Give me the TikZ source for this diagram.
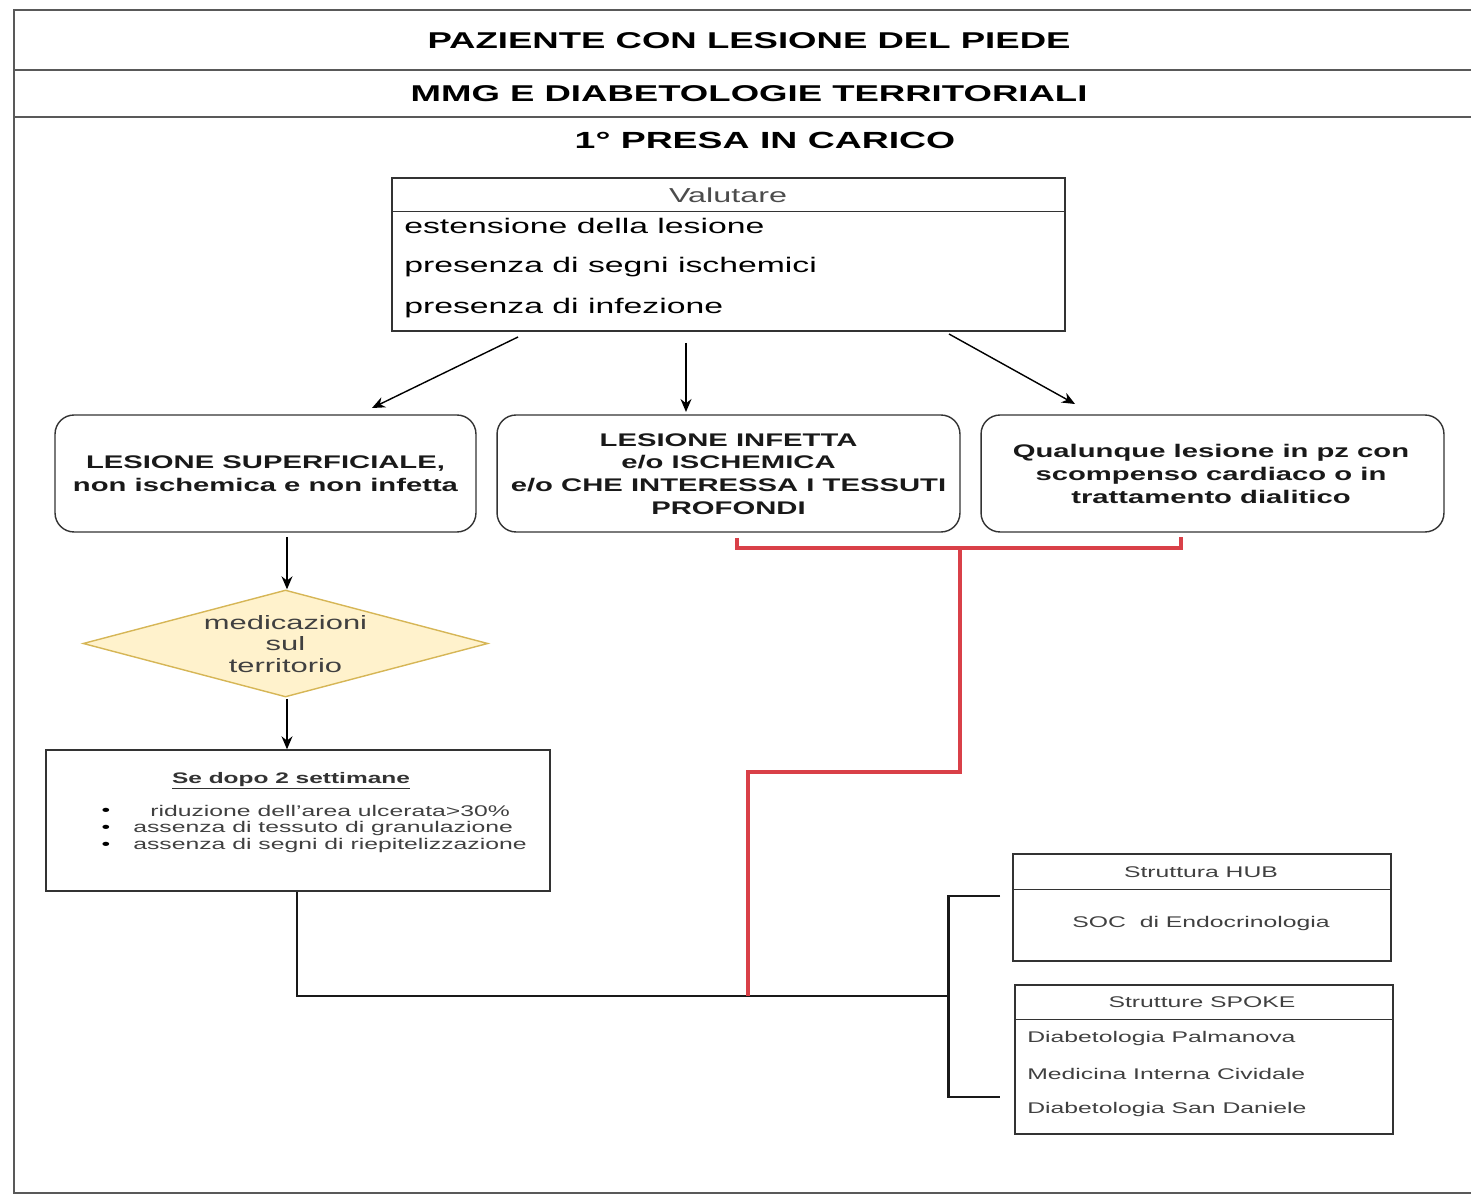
\documentclass[tikz,border=0pt]{standalone}
\usepackage{fontspec}
\setmainfont{Liberation Sans}[FakeStretch=1.6]
\usetikzlibrary{shapes.geometric,arrows.meta,calc}
\definecolor{redl}{RGB}{217,64,72}
\definecolor{dfill}{RGB}{255,242,204}
\definecolor{dline}{RGB}{214,182,86}
\begin{document}
\begin{tikzpicture}[x=0.02cm,y=-0.02cm,
  frameline/.style={draw=black!65, line width=1.1pt},
  box/.style={draw=black!80, line width=0.8pt, inner sep=0pt},
  rbox/.style={box, rounded corners=0.38cm},
  arr/.style={draw=black, line width=0.8pt, -{Stealth[length=0.26cm,width=0.22cm]}},
  conn/.style={draw=black!90, line width=1.7pt},
  redconn/.style={draw=redl, line width=1.8pt},
  ttl/.style={font=\bfseries\fontsize{13}{15}\selectfont, inner sep=0pt},
  btxt/.style={font=\bfseries\fontsize{10.4}{13}\selectfont, align=center, inner sep=0pt, text=black!90},
  itm/.style={font=\fontsize{12}{14}\selectfont, anchor=west, inner sep=0pt, text=black},
  stxt/.style={font=\fontsize{8.8}{10}\selectfont, inner sep=0pt, text=black!75},
]
\useasboundingbox (0,0) rectangle (1471,1195);
% outer frame
\draw[frameline] (1490,10) -- (14,10) -- (14,1193) -- (1490,1193);
\draw[frameline] (14,70) -- (1490,70);
\draw[frameline] (14,117) -- (1490,117);
\node[ttl] (t1) at (749,41) {PAZIENTE CON LESIONE DEL PIEDE};
\node[ttl] (t2) at (749,94) {MMG E DIABETOLOGIE TERRITORIALI};
\node[ttl, font=\bfseries\fontsize{13.3}{15}\selectfont] (t3) at (765,140) {1° PRESA IN CARICO};

% Valutare box
\node[box, minimum width=13.46cm, minimum height=3.06cm] (val) at (728.5,254.5) {};
\draw[box] ([yshift=-0.68cm]val.north west) -- ([yshift=-0.68cm]val.north east);
\node[font=\fontsize{11.5}{13}\selectfont, text=black!70, inner sep=0pt] (valh) at (728,195) {Valutare};
\node[itm] (v1) at (404,226) {estensione della lesione};
\node[itm] (v2) at (404,267) {presenza di segni ischemici};
\node[itm] (v3) at (404,308) {presenza di infezione};

% three boxes
\node[rbox, minimum width=8.42cm, minimum height=2.34cm] (b1) at (265.5,473.5) {};
\node[btxt] (b1t) at (265.5,474) {LESIONE SUPERFICIALE,\\non ischemica e non infetta};
\node[rbox, minimum width=9.26cm, minimum height=2.34cm] (b2) at (728.5,473.5) {};
\node[btxt] (b2t) at (728.5,474) {LESIONE INFETTA\\e/o ISCHEMICA\\e/o CHE INTERESSA I TESSUTI\\PROFONDI};
\node[rbox, minimum width=9.26cm, minimum height=2.34cm] (b3) at (1212.5,473.5) {};
\node[btxt] (b3t) at (1211,474) {Qualunque lesione in pz con\\scompenso cardiaco o in\\trattamento dialitico};

% arrows from Valutare
\coordinate (a1s) at (518,337);
\coordinate (a1e) at (372,408);
\coordinate (a2s) at (686,343);
\coordinate (a2e) at (686,412);
\coordinate (a3s) at (949,334);
\coordinate (a3e) at (1075,404);
\draw[arr] (a1s) -- (a1e);
\draw[arr] (a2s) -- (a2e);
\draw[arr] (a3s) -- (a3e);

% diamond
\node[diamond, draw=dline, fill=dfill, line width=0.8pt, minimum width=8.1cm, minimum height=2.14cm, inner sep=0pt] (dia) at (285.5,643.5) {};
\node[font=\fontsize{11}{12.2}\selectfont, align=center, text=black!75, inner sep=0pt] (diat) at (285.5,644) {medicazioni\\sul\\territorio};
\coordinate (d1s) at (287,537);
\draw[arr] (d1s) -- (d1s |- dia.north);

% Se dopo box
\node[box, minimum width=10.08cm, minimum height=2.82cm] (sd) at (298,820.5) {};
\coordinate (d2s) at (287,699);
\draw[arr] (d2s) -- (d2s |- sd.north);
\node[font=\bfseries\fontsize{8.7}{10}\selectfont, text=black!80, inner sep=0pt] (sdt) at (291,781) {\underline{Se dopo 2 settimane}};
\node[stxt, anchor=west] (s1) at (150,811) {riduzione dell'area ulcerata>30\%};
\node[stxt, anchor=west] (s2) at (133,829) {assenza di tessuto di granulazione};
\node[stxt, anchor=west] (s3) at (133,846) {assenza di segni di riepitelizzazione};
\node[stxt, text=black] (p1) at (106,812) {•};
\node[stxt, text=black] (p2) at (106,829) {•};
\node[stxt, text=black] (p3) at (106,846) {•};

% HUB and SPOKE
\node[box, minimum width=7.56cm, minimum height=2.14cm] (hub) at (1202,907.5) {};
\draw[box] ([yshift=-0.72cm]hub.north west) -- ([yshift=-0.72cm]hub.north east);
\node[stxt] (hubh) at (1201,872) {Struttura HUB};
\node[stxt] (hubt) at (1201,924) {SOC\ \ di Endocrinologia};
\node[box, minimum width=7.56cm, minimum height=2.98cm] (spk) at (1204,1059.5) {};
\draw[box] ([yshift=-0.70cm]spk.north west) -- ([yshift=-0.70cm]spk.north east);
\node[stxt] (spkh) at (1202,1002) {Strutture SPOKE};
\node[stxt, anchor=west] (k1) at (1027,1038) {Diabetologia Palmanova};
\node[stxt, anchor=west] (k2) at (1027,1074) {Medicina Interna Cividale};
\node[stxt, anchor=west] (k3) at (1027,1109) {Diabetologia San Daniele};

% black connectors
\coordinate (jn) at (948,996);
\coordinate (hubin) at (1000,896);
\coordinate (spkin) at (1000,1097);
\draw[conn] (sd.south -| 297,0) -- (297,996) -- (jn);
\draw[conn] (hubin) -- (948,896) -- (948,1097) -- (spkin);

% red connectors
\draw[redconn] (737,538) -- (737,548) -- (1181,548) -- (1181,537);
\draw[redconn] (960,548) -- (960,772) -- (748,772) -- (748,996);
\end{tikzpicture}
\end{document}
